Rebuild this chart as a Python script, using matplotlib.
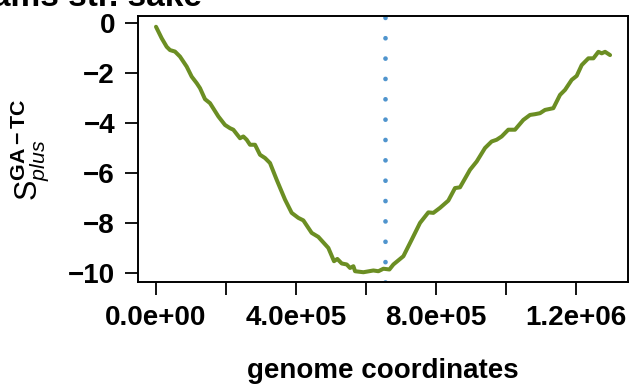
import matplotlib
matplotlib.use("Agg")
import matplotlib.pyplot as plt

plt.rcParams['font.family'] = ['Liberation Sans', 'DejaVu Sans']
plt.rcParams['mathtext.fontset'] = 'custom'
plt.rcParams['mathtext.rm'] = 'Liberation Sans'
plt.rcParams['mathtext.it'] = 'Liberation Sans:italic'
plt.rcParams['mathtext.bf'] = 'Liberation Sans:bold'

# data
pos = [0, 16300, 30600, 40000, 54300, 68600, 87700, 102000, 116300, 125800,
       140100, 154400, 178300, 197300, 211600, 221100, 240200, 249700, 259300,
       268800, 283100, 297400, 311700, 326000, 345100, 368900, 388000, 407000,
       421300, 445200, 464200, 492800, 509000, 518500, 531100, 545400, 554900,
       564400, 569200, 593000, 621600, 635900, 650200, 667400, 678800, 707400,
       731200, 755000, 778800, 793100, 812100, 835900, 855000, 869300, 897900,
       917000, 940800, 959800, 974100, 988400, 1007400, 1026500, 1050300,
       1069500, 1083800, 1098100, 1112400, 1136200, 1155300, 1169600, 1188700,
       1203000, 1217300, 1236400, 1250700, 1265000, 1274500, 1284100, 1298400]
skew = [-0.16, -0.62, -0.96, -1.09, -1.15, -1.35, -1.75, -2.15, -2.41, -2.61,
        -3.05, -3.21, -3.74, -4.08, -4.21, -4.27, -4.61, -4.54, -4.67,
        -4.87, -4.87, -5.27, -5.40, -5.60, -6.27, -7.06, -7.59, -7.79,
        -7.89, -8.39, -8.55, -8.99, -9.52, -9.43, -9.61, -9.65, -9.79,
        -9.72, -9.92, -9.96, -9.89, -9.92, -9.82, -9.85, -9.65, -9.32,
        -8.66, -7.99, -7.57, -7.59, -7.39, -7.10, -6.60, -6.57, -5.87,
        -5.54, -5.00, -4.74, -4.67, -4.54, -4.27, -4.27, -3.88,
        -3.68, -3.65, -3.61, -3.48, -3.41, -2.88, -2.68, -2.28,
        -2.12, -1.69, -1.42, -1.42, -1.16, -1.22, -1.16, -1.29]
terminus = 656000
xticks = [0, 200000, 400000, 600000, 800000, 1000000, 1200000]
xticklabels = ['0.0e+00', '', '4.0e+05', '', '8.0e+05', '', '1.2e+06']
yticks = [0, -2, -4, -6, -8, -10]
yticklabels = ['0', '\u22122', '\u22124', '\u22126', '\u22128', '\u221210']
title = 'Candidatus Hodgkinia williams str. sake'
ylabel = '$\\mathrm{S}^{\\mathbf{GA\u2212TC}}_{\\mathit{plus}}$'

fig = plt.figure(figsize=(6.31, 3.84), dpi=100)
ax = fig.add_axes([138/631, 1-282/384, 490/631, 266/384])

ax.plot(pos, skew, color='#6B8E23', lw=2.9, solid_joinstyle='round',
        solid_capstyle='round')
ax.axvline(terminus, color='#4F94CD', lw=3.4, linestyle=(0, (0.01, 4.3)),
           dash_capstyle='round')

ax.set_xlim(-51500, 1349700)
ax.set_ylim(-10.35, 0.27)
ax.set_xticks(xticks)
ax.set_xticklabels(xticklabels, fontsize=20, fontweight='bold')
ax.set_yticks(yticks)
ax.set_yticklabels(yticklabels, fontsize=20, fontweight='bold')
ax.tick_params(axis='both', length=9.5, width=1.3, color='black')
ax.tick_params(axis='x', pad=7)
ax.tick_params(axis='y', pad=7)
for s in ax.spines.values():
    s.set_linewidth(1.4)

ax.set_xlabel('genome coordinates', fontsize=20, fontweight='bold', labelpad=19.5)
fig.text(30/631, 1-150/384, ylabel,
         rotation=90, ha='center', va='center', fontsize=22)
fig.text(202/631, 1-6/384, title, ha='right', va='baseline', fontsize=24,
         fontweight='bold')

fig.savefig('out.png', dpi=100)
